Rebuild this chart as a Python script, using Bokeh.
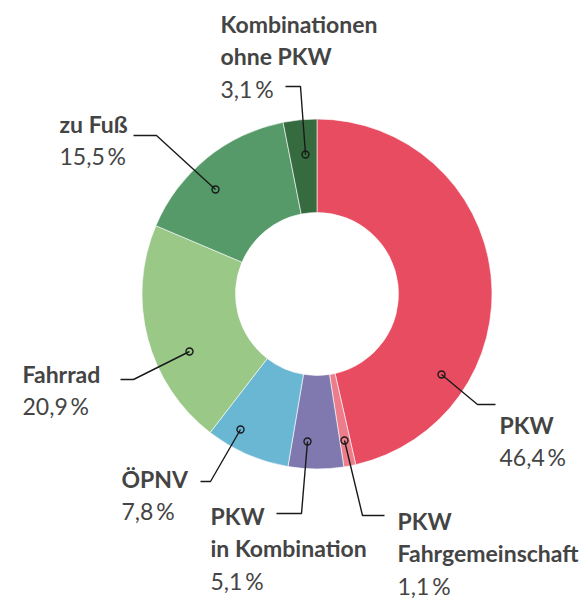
import math
from bokeh.plotting import figure
from bokeh.models import Range1d
from bokeh.core.properties import value
from bokeh.embed import file_html
from bokeh.resources import INLINE

# ---- data ----
categories = ["PKW", "PKW Fahrgemeinschaft", "PKW in Kombination", "ÖPNV",
              "Fahrrad", "zu Fuß", "Kombinationen ohne PKW"]
shares = [46.4, 1.1, 5.1, 7.8, 20.9, 15.5, 3.1]
label_lines = [["PKW"], ["PKW", "Fahrgemeinschaft"], ["PKW", "in Kombination"],
               ["ÖPNV"], ["Fahrrad"], ["zu Fuß"], ["Kombinationen", "ohne PKW"]]
colors = ["#E84C61", "#EE7D8C", "#7F79AF", "#6AB7D4", "#99C887", "#569A69", "#356B3F"]

# ---- layout (picture pixel coordinates) ----
W, H = 588, 601
CX, CY = 316.5, 293.5
R_OUT, R_IN = 175, 81.5
FONT = "Lato"
FS = "23px"
LINE_GAP = 32.5
TEXT_DY = -9
TEXT_COLOR = "#444444"

# callout: dot, elbow, end, text x, first baseline
callouts = [
    ((441, 374), (477, 404), (495, 404), 499, 433),
    ((344, 440), (362, 515), (384, 515), 397, 529),
    ((307, 441), (301, 513), (276, 513), 210, 524),
    ((240, 429), (210, 481), (200, 481), 121, 487),
    ((189, 351), (133, 379), (120, 379), 22, 382),
    ((215, 189), (156, 135), (133, 135), 59, 132),
    ((305, 154), (300, 86), (285, 86), 220, 32),
]


def px(x):
    return x


def py(y):
    return H - y


p = figure(width=W, height=H, output_backend="svg", toolbar_location=None,
           x_range=Range1d(0, W), y_range=Range1d(0, H), min_border=0)
p.axis.visible = False
p.grid.visible = False
p.outline_line_color = None
p.background_fill_color = "white"
p.border_fill_color = "white"

# wedges, clockwise from 12 o'clock
total = sum(shares)
cum = 0.0
starts, ends = [], []
for s in shares:
    a0 = cum / total
    cum += s
    a1 = cum / total
    starts.append(math.pi / 2 - 2 * math.pi * a1)
    ends.append(math.pi / 2 - 2 * math.pi * a0)

p.annular_wedge(x=[px(CX)] * len(shares), y=[py(CY)] * len(shares),
                inner_radius=R_IN, outer_radius=R_OUT,
                start_angle=starts, end_angle=ends, direction="anticlock",
                fill_color=colors, line_color="white", line_width=0.6)

# callouts
xs, ys, dx, dy = [], [], [], []
for (d, e, f, tx, ty) in callouts:
    xs.append([px(d[0]), px(e[0]), px(f[0])])
    ys.append([py(d[1]), py(e[1]), py(f[1])])
    dx.append(px(d[0]))
    dy.append(py(d[1]))
p.multi_line(xs=xs, ys=ys, line_color="#1a1a1a", line_width=1.4)
p.scatter(x=dx, y=dy, marker="circle", size=7, fill_alpha=0,
          line_color="#1a1a1a", line_width=1.4)

# labels
bx, by, bt = [], [], []
nx, ny, nt = [], [], []
for lines, s, (d, e, f, tx, ty) in zip(label_lines, shares, callouts):
    for i, ln in enumerate(lines):
        bx.append(px(tx))
        by.append(py(ty + TEXT_DY + i * LINE_GAP))
        bt.append(ln)
    nx.append(px(tx))
    ny.append(py(ty + TEXT_DY + len(lines) * LINE_GAP))
    nt.append(f"{s:.1f}".replace(".", ",") + "\u2009%")

p.text(x=bx, y=by, text=bt, text_font=value(FONT), text_font_size=FS,
       text_font_style="bold", text_color=TEXT_COLOR,
       text_align="left", text_baseline="alphabetic")
p.text(x=nx, y=ny, text=nt, text_font=value(FONT), text_font_size=FS,
       text_font_style="normal", text_color=TEXT_COLOR,
       text_align="left", text_baseline="alphabetic")

open("out.html", "w").write(file_html(p, INLINE))
